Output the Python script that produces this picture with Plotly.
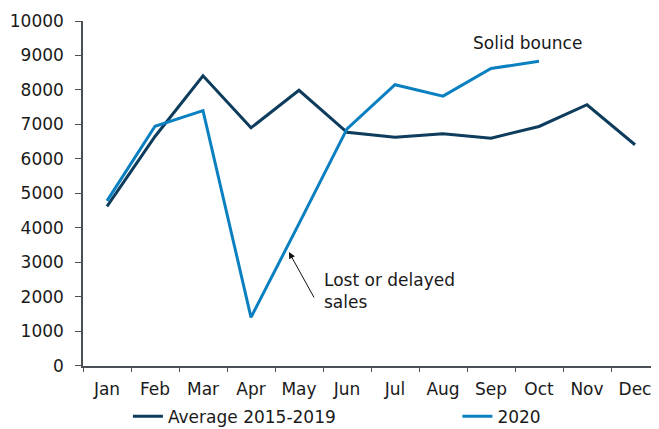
import plotly.graph_objects as go

months = ["Jan", "Feb", "Mar", "Apr", "May", "Jun",
          "Jul", "Aug", "Sep", "Oct", "Nov", "Dec"]
avg_2015_2019 = [4620, 6650, 8410, 6900, 7990, 6770,
                 6630, 6725, 6600, 6940, 7570, 6410]
sales_2020 = [4780, 6945, 7400, 1400, 4120, 6870,
              8150, 7820, 8620, 8835]

FONT = "DejaVu Sans"
TEXT = "#1a1a1a"
AXIS = "#4a5056"

fig = go.Figure()

fig.add_trace(go.Scatter(
    x = months,
    y = avg_2015_2019,
    mode = "lines",
    name = "Average 2015-2019",
    line = dict(color="#0d3c5c", width=3),
    legend = "legend"
))

fig.add_trace(go.Scatter(
    x = months[:len(sales_2020)],
    y = sales_2020,
    mode = "lines",
    name = "2020",
    line = dict(color="#0b80c0", width=3),
    legend = "legend2"
))

# Callouts
fig.add_annotation(x=8.77, y=9364, text="Solid bounce", showarrow=False,
                   font=dict(size=17, color=TEXT, family=FONT))
fig.add_annotation(x=4.48, y=2168, text="Lost or delayed<br>sales", showarrow=False,
                   xanchor="left", align="left",
                   font=dict(size=17, color=TEXT, family=FONT))
fig.add_annotation(x=3.79, y=3295, ax=4.33, ay=1936, axref="x", ayref="y",
                   text="", showarrow=True, arrowhead=2, arrowsize=1.3,
                   arrowwidth=1, arrowcolor="#111111")

# page body has an 8px margin, so the figure is shrunk by that much
# legends sit in container coords so they don't push the margins
fig.update_layout(
    width=651, height=421,
    margin=dict(l=75, r=0, t=13, b=62),
    paper_bgcolor="white",
    plot_bgcolor="white",
    font=dict(family=FONT, size=17, color=TEXT),
    showlegend=True,
    legend=dict(orientation="h", x=0.078, xanchor="left",
                y=0.029, yref="container", yanchor="middle",
                font=dict(size=17)),
    legend2=dict(orientation="h", x=0.650, xanchor="left",
                 y=0.029, yref="container", yanchor="middle",
                 font=dict(size=17)),
    xaxis=dict(type="category", range=[-0.5, 11.5], showgrid=False,
               showline=True, linecolor=AXIS, linewidth=1.5,
               ticks="outside", tickson="boundaries", ticklen=5,
               tickcolor=AXIS, ticklabelstandoff=7, tickfont=dict(size=17)),
    yaxis=dict(range=[0, 10000], dtick=1000, tickformat="d", showgrid=False,
               zeroline=False, showline=True, linecolor=AXIS, linewidth=1.5,
               ticks="outside", ticklen=6, tickcolor=AXIS,
               ticklabelstandoff=8, tickfont=dict(size=17)),
)

fig.write_html("out.html")
